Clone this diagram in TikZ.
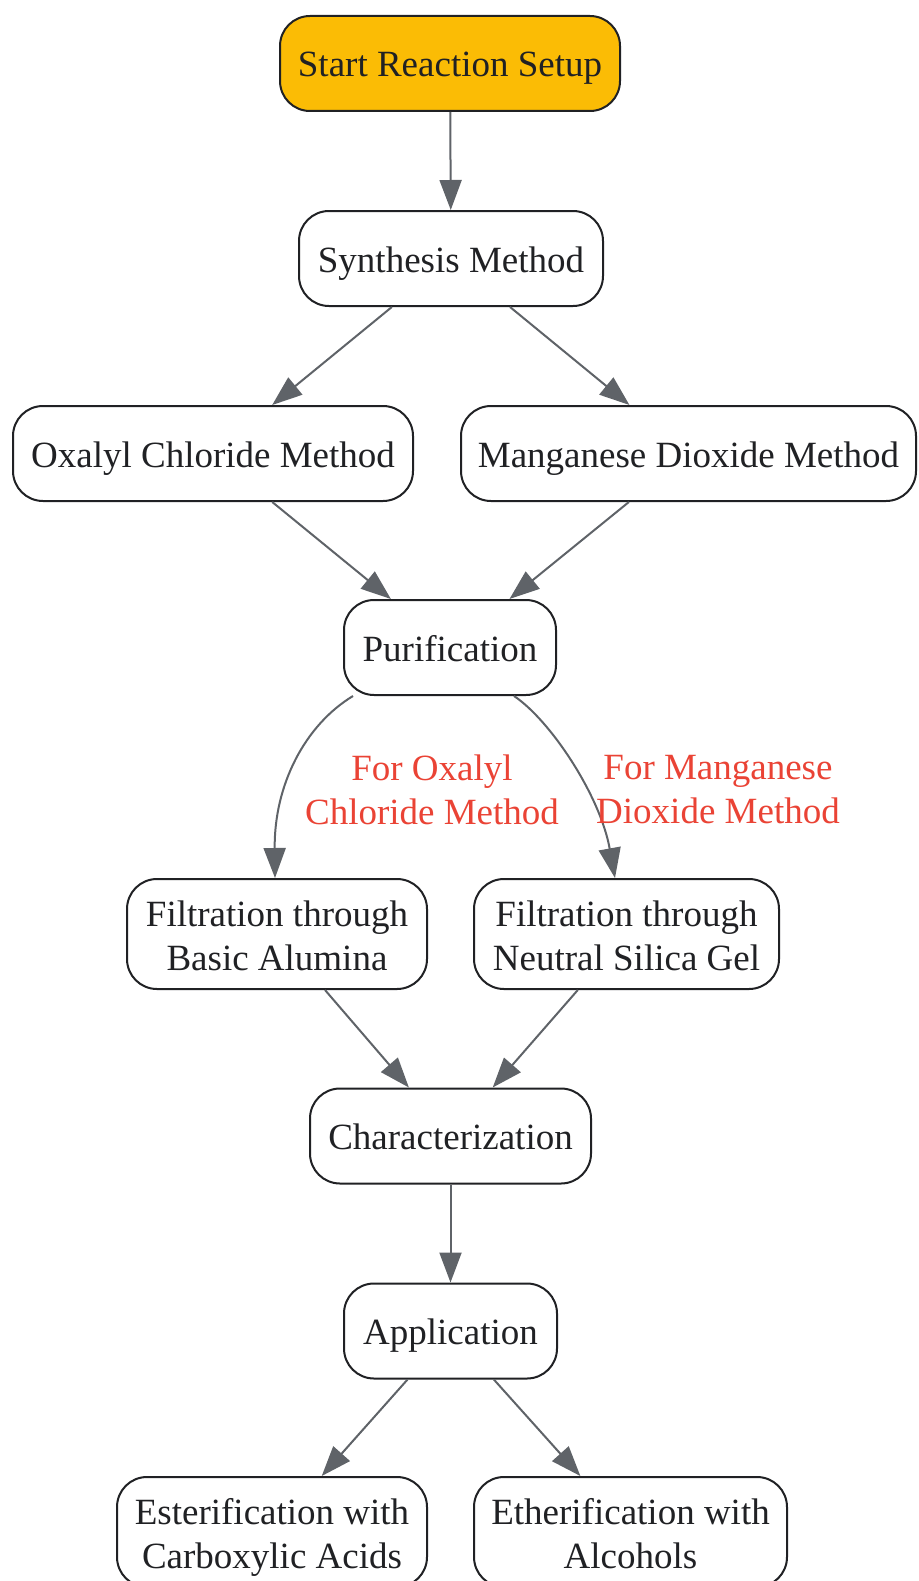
\documentclass[tikz,border=0pt]{standalone}
\usepackage{fontspec}
\setmainfont{Liberation Serif}
\usetikzlibrary{arrows.meta}
\definecolor{startfill}{HTML}{FBBC05}
\definecolor{edgegray}{HTML}{5F6368}
\definecolor{labelred}{HTML}{EA4335}
\definecolor{ink}{HTML}{202124}
\tikzset{
  basebox/.style={draw=ink, line width=2pt, rounded corners=30pt, fill=white,
    text=ink, align=center, inner sep=0pt,
    font=\fontsize{37}{44}\selectfont},
  box/.style={basebox, minimum height=95pt, text height=33pt, text depth=6pt},
  tallbox/.style={basebox, minimum height=110pt, text height=80pt, text depth=7pt},
  edge/.style={draw=edgegray, line width=2pt,
    -{Triangle[length=30pt,width=22pt]}},
  elabel/.style={text=labelred, align=center,
    font=\fontsize{37}{44}\selectfont}
}
\begin{document}
\begin{tikzpicture}[x=1pt,y=-1pt]
\useasboundingbox (0,0) rectangle (918,1581);
\clip (0,0) rectangle (918,1581);
\node[box, fill=startfill, minimum width=340pt] (start) at (450,63.5) {Start Reaction Setup};
\node[box, minimum width=304pt] (syn) at (451,258.5) {Synthesis Method};
\node[box, minimum width=400pt] (oxa) at (213,453.5) {Oxalyl Chloride Method};
\node[box, minimum width=455pt] (mn) at (688.5,453.5) {Manganese Dioxide Method};
\node[box, minimum width=212pt] (pur) at (450,647.5) {Purification};
\node[tallbox, minimum width=300pt] (fa) at (277,934) {Filtration through\\Basic Alumina};
\node[tallbox, minimum width=305pt] (fs) at (626.5,934) {Filtration through\\Neutral Silica Gel};
\node[box, minimum width=281pt] (char) at (450.5,1136) {Characterization};
\node[box, minimum width=213pt] (app) at (450.5,1331) {Application};
\node[tallbox, minimum width=310pt] (es) at (272,1532) {Esterification with\\Carboxylic Acids};
\node[tallbox, minimum width=313pt] (et) at (630.5,1532) {Etherification with\\Alcohols};

\draw[edge] (start) -- (syn);
\draw[edge] (syn) -- (oxa);
\draw[edge] (syn) -- (mn);
\draw[edge] (oxa) -- (pur);
\draw[edge] (mn) -- (pur);
\draw[edge] ([xshift=-97pt]pur.south) .. controls (305,725) and (274,785) .. ([xshift=-2pt]fa.north);
\draw[edge] ([xshift=64pt]pur.south) .. controls (550,720) and (600,795) .. ([xshift=-11.5pt]fs.north);
\node[elabel] (l1) at (432,790) {For Oxalyl\\Chloride Method};
\node[elabel] (l2) at (718,790) {For Manganese\\Dioxide Method};
\draw[edge] (fa) -- (char);
\draw[edge] (fs) -- (char);
\draw[edge] (char) -- (app);
\draw[edge] (app) -- (es);
\draw[edge] (app) -- (et);
\end{tikzpicture}
\end{document}
